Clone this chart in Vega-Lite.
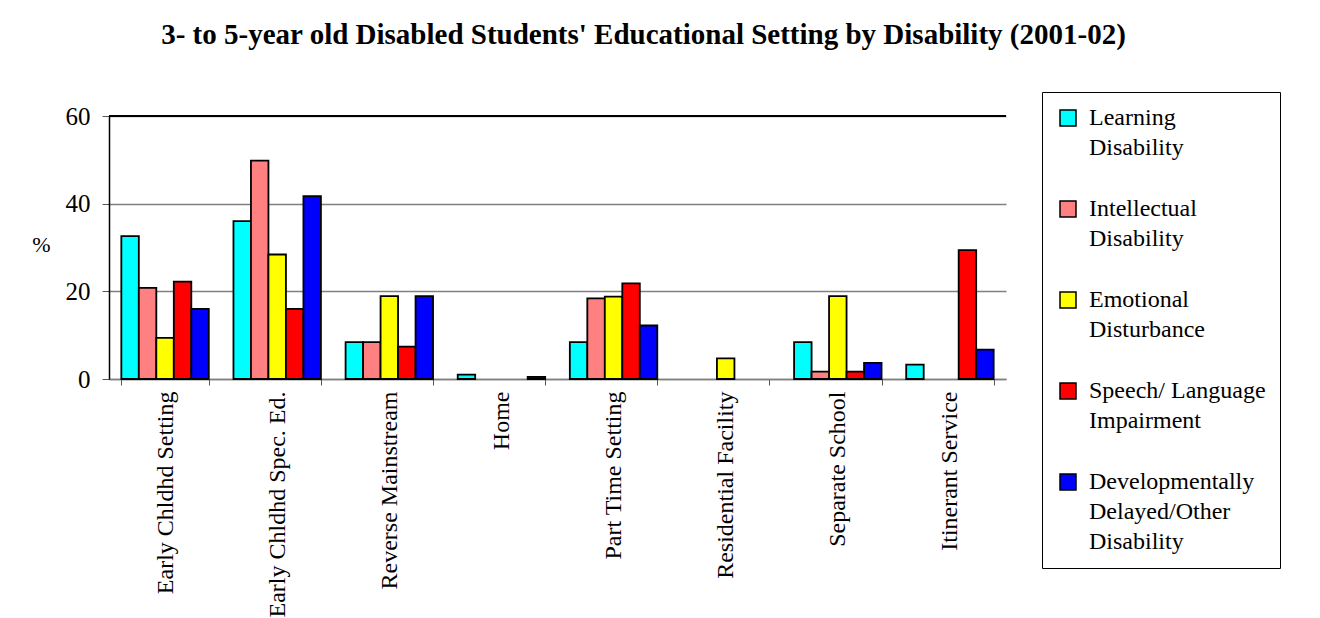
{
  "$schema": "https://vega.github.io/schema/vega-lite/v6.json",
  "autosize": {"type": "none"},
  "width": 897,
  "height": 263,
  "padding": {"left": 109, "top": 116, "right": 314, "bottom": 239},
  "background": "white",
  "title": {
    "text": "3- to 5-year old Disabled Students' Educational Setting by Disability (2001-02)",
    "anchor": "middle",
    "dx": 86,
    "offset": 42,
    "font": "Liberation Serif",
    "fontSize": 29,
    "fontWeight": "bold",
    "color": "black"
  },
  "data": {
    "values": [
      {"setting": "Early Chldhd Setting", "disability": "Learning Disability", "pct": 32.6},
      {"setting": "Early Chldhd Setting", "disability": "Intellectual Disability", "pct": 20.8},
      {"setting": "Early Chldhd Setting", "disability": "Emotional Disturbance", "pct": 9.4},
      {"setting": "Early Chldhd Setting", "disability": "Speech/ Language Impairment", "pct": 22.2},
      {"setting": "Early Chldhd Setting", "disability": "Developmentally Delayed/Other Disability", "pct": 16.0},
      {"setting": "Early Chldhd Spec. Ed.", "disability": "Learning Disability", "pct": 36.0},
      {"setting": "Early Chldhd Spec. Ed.", "disability": "Intellectual Disability", "pct": 49.8},
      {"setting": "Early Chldhd Spec. Ed.", "disability": "Emotional Disturbance", "pct": 28.4},
      {"setting": "Early Chldhd Spec. Ed.", "disability": "Speech/ Language Impairment", "pct": 16.0},
      {"setting": "Early Chldhd Spec. Ed.", "disability": "Developmentally Delayed/Other Disability", "pct": 41.7},
      {"setting": "Reverse Mainstream", "disability": "Learning Disability", "pct": 8.4},
      {"setting": "Reverse Mainstream", "disability": "Intellectual Disability", "pct": 8.4},
      {"setting": "Reverse Mainstream", "disability": "Emotional Disturbance", "pct": 18.9},
      {"setting": "Reverse Mainstream", "disability": "Speech/ Language Impairment", "pct": 7.4},
      {"setting": "Reverse Mainstream", "disability": "Developmentally Delayed/Other Disability", "pct": 18.9},
      {"setting": "Home", "disability": "Learning Disability", "pct": 1.0},
      {"setting": "Home", "disability": "Intellectual Disability", "pct": 0},
      {"setting": "Home", "disability": "Emotional Disturbance", "pct": 0},
      {"setting": "Home", "disability": "Speech/ Language Impairment", "pct": 0},
      {"setting": "Home", "disability": "Developmentally Delayed/Other Disability", "pct": 0.5},
      {"setting": "Part Time Setting", "disability": "Learning Disability", "pct": 8.4},
      {"setting": "Part Time Setting", "disability": "Intellectual Disability", "pct": 18.4},
      {"setting": "Part Time Setting", "disability": "Emotional Disturbance", "pct": 18.8},
      {"setting": "Part Time Setting", "disability": "Speech/ Language Impairment", "pct": 21.8},
      {"setting": "Part Time Setting", "disability": "Developmentally Delayed/Other Disability", "pct": 12.2},
      {"setting": "Residential Facility", "disability": "Learning Disability", "pct": 0},
      {"setting": "Residential Facility", "disability": "Intellectual Disability", "pct": 0},
      {"setting": "Residential Facility", "disability": "Emotional Disturbance", "pct": 4.7},
      {"setting": "Residential Facility", "disability": "Speech/ Language Impairment", "pct": 0},
      {"setting": "Residential Facility", "disability": "Developmentally Delayed/Other Disability", "pct": 0},
      {"setting": "Separate School", "disability": "Learning Disability", "pct": 8.4},
      {"setting": "Separate School", "disability": "Intellectual Disability", "pct": 1.7},
      {"setting": "Separate School", "disability": "Emotional Disturbance", "pct": 18.9},
      {"setting": "Separate School", "disability": "Speech/ Language Impairment", "pct": 1.7},
      {"setting": "Separate School", "disability": "Developmentally Delayed/Other Disability", "pct": 3.7},
      {"setting": "Itinerant Service", "disability": "Learning Disability", "pct": 3.3},
      {"setting": "Itinerant Service", "disability": "Intellectual Disability", "pct": 0},
      {"setting": "Itinerant Service", "disability": "Emotional Disturbance", "pct": 0},
      {"setting": "Itinerant Service", "disability": "Speech/ Language Impairment", "pct": 29.4},
      {"setting": "Itinerant Service", "disability": "Developmentally Delayed/Other Disability", "pct": 6.7}
    ]
  },
  "layer": [
    {
      "mark": {"type": "bar", "stroke": "black", "strokeWidth": 1.8},
      "encoding": {
        "x": {
          "field": "setting",
          "type": "nominal",
          "sort": null,
          "scale": {"paddingInner": 0.22, "paddingOuter": 0.11},
          "axis": {
            "title": null,
            "labelAngle": -90,
            "labelFont": "Liberation Serif",
            "labelFontSize": 24,
            "labelColor": "black",
            "labelPadding": 6,
            "labelLimit": 240,
            "tickBand": "extent",
            "tickSize": 6,
            "tickColor": "#555555",
            "domainColor": "#808080",
            "domainWidth": 1.5
          }
        },
        "xOffset": {
          "field": "disability",
          "type": "nominal",
          "sort": null,
          "scale": {"paddingInner": 0, "paddingOuter": 0}
        },
        "y": {
          "field": "pct",
          "type": "quantitative",
          "scale": {"domain": [0, 60], "nice": false},
          "axis": {
            "title": "%",
            "titleAngle": 0,
            "titleX": -68,
            "titleY": 128,
            "titleAlign": "center",
            "titleBaseline": "middle",
            "titleFont": "Liberation Serif",
            "titleFontSize": 22,
            "titleFontWeight": "normal",
            "titleColor": "black",
            "values": [0, 20, 40, 60],
            "labelFont": "Liberation Serif",
            "labelFontSize": 25,
            "labelColor": "black",
            "labelPadding": 12,
            "tickSize": 7,
            "tickColor": "#555555",
            "domainColor": "black",
            "domainWidth": 1.5,
            "grid": true,
            "gridColor": "#808080",
            "gridWidth": 1.5
          }
        },
        "color": {
          "field": "disability",
          "type": "nominal",
          "sort": null,
          "scale": {
            "domain": ["Learning Disability", "Intellectual Disability", "Emotional Disturbance", "Speech/ Language Impairment", "Developmentally Delayed/Other Disability"],
            "range": ["#00FFFF", "#FF8080", "#FFFF00", "#FF0000", "#0000FF"]
          },
          "legend": {
            "title": null,
            "orient": "none",
            "legendX": 933,
            "legendY": -24,
            "padding": 14,
            "strokeColor": "black",
            "fillColor": "white",
            "symbolType": "square",
            "symbolSize": 256,
            "symbolStrokeColor": "black",
            "symbolStrokeWidth": 1.5,
            "labelFont": "Liberation Serif",
            "labelFontSize": 24,
            "labelColor": "black",
            "labelOffset": 9,
            "labelLimit": 300,
            "labelBaseline": "middle",
            "rowPadding": 37,
            "labelExpr": "datum.label == 'Speech/ Language Impairment' ? ['Speech/ Language', 'Impairment'] : datum.label == 'Developmentally Delayed/Other Disability' ? ['Developmentally', 'Delayed/Other', 'Disability'] : split(datum.label, ' ')"
          }
        },
        "strokeOpacity": {
          "condition": {"test": "datum.pct == 0", "value": 0},
          "value": 1
        }
      }
    },
    {
      "mark": {"type": "rule", "color": "black", "strokeWidth": 1.5},
      "encoding": {"y": {"datum": 60}}
    }
  ],
  "config": {
    "view": {"stroke": null},
    "style": {"guide-label": {"lineHeight": 30, "font": "Liberation Serif"}}
  }
}
